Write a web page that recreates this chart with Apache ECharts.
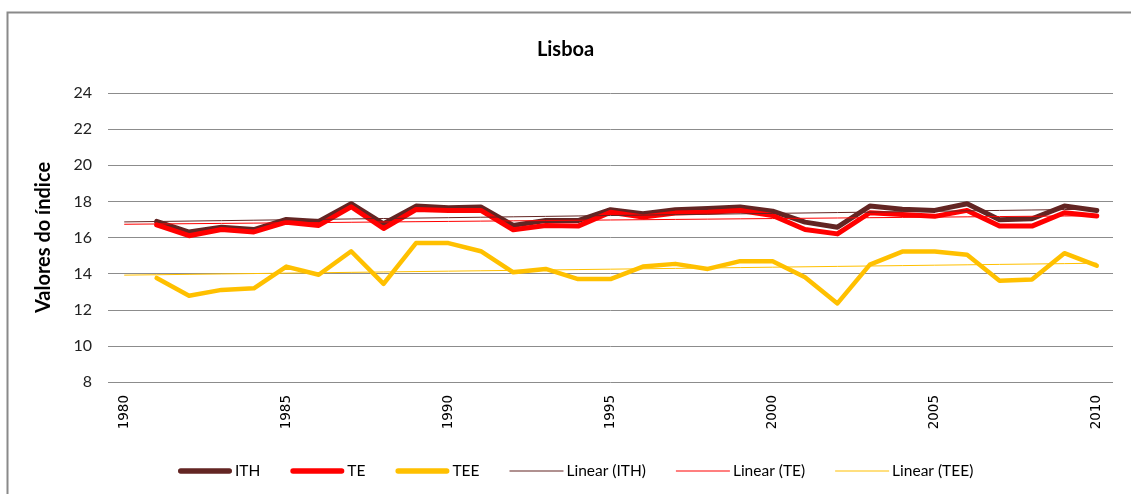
<!DOCTYPE html>
<html><head><meta charset="utf-8">
<script src="https://cdn.jsdelivr.net/npm/echarts@6/dist/echarts.min.js"></script>
<style>html,body{margin:0;padding:0;background:#fff}#c{width:1131px;height:494px}</style>
</head><body><div id="c"></div>
<script>
const years = [];
for (let y = 1980; y <= 2010; y++) years.push(String(y));
const ITH = [null, 16.89, 16.3, 16.57, 16.44, 17.0, 16.89, 17.87, 16.76, 17.74, 17.65, 17.69, 16.67, 16.94, 16.94, 17.54, 17.31, 17.54, 17.6, 17.69, 17.46, 16.85, 16.57, 17.74, 17.56, 17.5, 17.87, 16.98, 17.04, 17.74, 17.5];
const TE  = [null, 16.7, 16.1, 16.44, 16.31, 16.85, 16.67, 17.7, 16.5, 17.55, 17.5, 17.5, 16.43, 16.67, 16.63, 17.4, 17.13, 17.35, 17.4, 17.5, 17.22, 16.44, 16.2, 17.37, 17.28, 17.17, 17.5, 16.63, 16.63, 17.37, 17.19];
const TEE = [null, 13.76, 12.78, 13.1, 13.19, 14.39, 13.94, 15.24, 13.43, 15.69, 15.69, 15.24, 14.07, 14.26, 13.7, 13.7, 14.39, 14.54, 14.26, 14.69, 14.69, 13.8, 12.35, 14.5, 15.22, 15.22, 15.04, 13.6, 13.67, 15.13, 14.44];
const yTicks = [8, 10, 12, 14, 16, 18, 20, 22, 24];

function linear(arr) {
  let n = 0, sx = 0, sy = 0, sxx = 0, sxy = 0;
  arr.forEach((v, i) => { if (v == null) return; n++; sx += i; sy += v; sxx += i * i; sxy += i * v; });
  const b = (n * sxy - sx * sy) / (n * sxx - sx * sx);
  const a = (sy - b * sx) / n;
  return arr.map((_, i) => +(a + b * i).toFixed(4));
}

const font = 'Lato, "Noto Sans", sans-serif';
const thickIcon = 'path://M5,0 L95,0 A5,5 0 0 1 95,10 L5,10 A5,5 0 0 1 5,0 Z';
const thinIcon = 'path://M0,0 L100,0 L100,2 L0,2 Z';
const chart = echarts.init(document.getElementById('c'), null, {renderer: 'canvas'});
chart.setOption({
  animation: false,
  backgroundColor: '#fff',
  graphic: [{type: 'rect', shape: {x: 7.5, y: 12.5, width: 1140, height: 500}, style: {fill: 'none', stroke: '#8a8a8a', lineWidth: 2}, silent: true}],
  title: {text: 'Lisboa', left: 'center', top: 35, textStyle: {fontFamily: font, fontWeight: 'bold', fontSize: 20, color: '#000'}},
  grid: {left: 108, right: 18, top: 93, bottom: 112},
  legend: {
    left: 173, top: 458, itemWidth: 54, itemHeight: 10, itemGap: 30, symbolKeepAspect: true,
    textStyle: {fontFamily: font, fontSize: 15.5, color: '#000', padding: [0, 0, 0, -2]},
    data: [
      {name: 'ITH', icon: thickIcon}, {name: 'TE', icon: thickIcon}, {name: 'TEE', icon: thickIcon},
      {name: 'Linear (ITH)', icon: thinIcon}, {name: 'Linear (TE)', icon: thinIcon}, {name: 'Linear (TEE)', icon: thinIcon}
    ]
  },
  xAxis: {
    type: 'category', data: years, boundaryGap: true,
    axisLine: {show: false}, axisTick: {show: false},
    axisLabel: {interval: 4, rotate: 90, margin: 13, fontFamily: '"DejaVu Sans", sans-serif', fontSize: 13.5, color: '#000'}
  },
  yAxis: {
    type: 'value', min: yTicks[0], max: yTicks[yTicks.length - 1], interval: 2,
    name: 'Valores do índice', nameLocation: 'middle', nameGap: 54, nameRotate: 90,
    nameTextStyle: {fontFamily: font, fontWeight: 'bold', fontSize: 20, color: '#000'},
    axisLine: {show: false}, axisTick: {show: false},
    axisLabel: {fontFamily: font, fontSize: 16, color: '#222', margin: 16},
    splitLine: {lineStyle: {color: '#8c8c8c', width: 1}}
  },
  series: [
    {name: 'ITH', type: 'line', data: ITH, symbol: 'none', color: '#632523', lineStyle: {width: 5, cap: 'round', join: 'round'}, z: 4},
    {name: 'TE', type: 'line', data: TE, symbol: 'none', color: '#ff0000', lineStyle: {width: 5, cap: 'round', join: 'round'}, z: 5},
    {name: 'TEE', type: 'line', data: TEE, symbol: 'none', color: '#ffc000', lineStyle: {width: 4.5, cap: 'round', join: 'round'}, z: 4},
    {name: 'Linear (ITH)', type: 'line', data: linear(ITH), symbol: 'none', color: '#632523', lineStyle: {width: 1}, z: 6},
    {name: 'Linear (TE)', type: 'line', data: linear(TE), symbol: 'none', color: '#ff0000', lineStyle: {width: 1}, z: 6},
    {name: 'Linear (TEE)', type: 'line', data: linear(TEE), symbol: 'none', color: '#ffc000', lineStyle: {width: 1}, z: 6}
  ]
});
</script></body></html>
